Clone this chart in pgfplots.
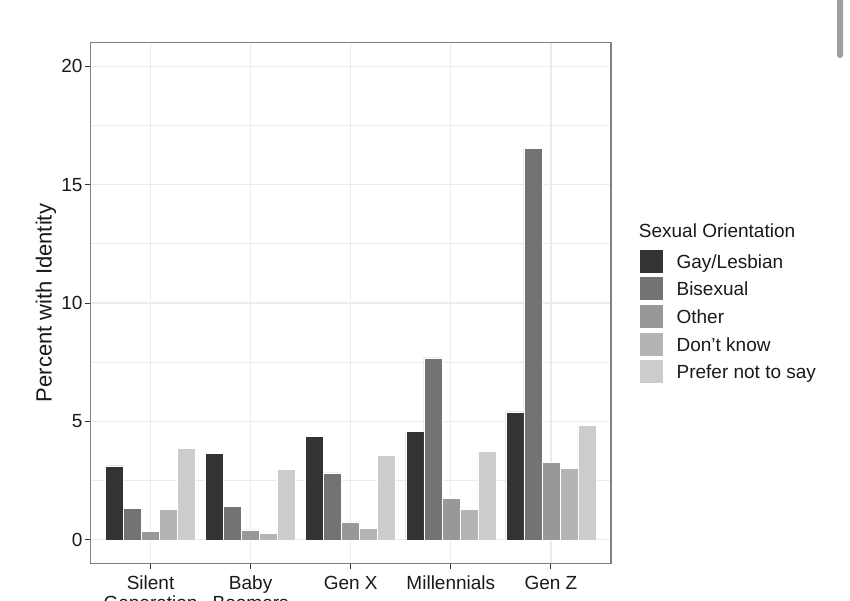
\documentclass[border=0pt]{standalone}
\usepackage{pgfplots}
\pgfplotsset{compat=1.18}
\usepackage{fontspec}
\setmainfont{Liberation Sans}
\definecolor{c1}{HTML}{333333}
\definecolor{c2}{HTML}{737373}
\definecolor{c3}{HTML}{989898}
\definecolor{c4}{HTML}{B4B4B4}
\definecolor{c5}{HTML}{CCCCCC}
\definecolor{gridc}{HTML}{EBEBEB}
\definecolor{framec}{HTML}{808080}
\definecolor{txt}{HTML}{1A1A1A}
\pgfplotstableread{
x gay bi other dk prefer
1 3.12 1.32 0.37 1.27 3.85
2 3.64 1.40 0.42 0.27 2.96
3 4.36 2.83 0.76 0.48 3.56
4 4.59 7.68 1.76 1.30 3.74
5 5.40 16.52 3.27 3.03 4.84
}\datatable
\begin{document}
\begin{tikzpicture}
\clip (0pt,0pt) rectangle (425pt,-300pt);
\fill[white] (0pt,0pt) rectangle (425pt,-300pt);
\fill[gray!75, rounded corners=1.4pt] (418.5pt,2pt) rectangle (421.5pt,-29pt);
\begin{axis}[
  name=ax,
  at={(45.25pt,-21.25pt)}, anchor=north west,
  width=260.25pt, height=260.5pt, scale only axis,
  xmin=0.4, xmax=5.6, ymin=-1, ymax=21,
  xtick={1,2,3,4,5},
  xticklabels={Silent\\Generation, Baby\\Boomers, Gen X, Millennials, Gen Z},
  ytick={0,5,10,15,20},
  minor ytick={2.5,7.5,12.5,17.5},
  /pgf/number format/assume math mode=true,
  minor tick length=0pt,
  major tick length=2.75pt,
  tick align=outside,
  xtick pos=bottom, ytick pos=left,
  tick style={color=black!80, line width=0.5pt},
  xmajorgrids, ymajorgrids, yminorgrids,
  major grid style={color=gridc, line width=0.6pt},
  minor grid style={color=gridc, line width=0.35pt},
  axis line style={color=framec, line width=0.55pt},
  xticklabel style={align=center, font=\fontsize{9.5}{10}\selectfont, text=txt},
  yticklabel style={font=\fontsize{9.5}{11}\selectfont, text=txt, xshift=2.25pt},
  ylabel={Percent with Identity},
  every axis y label/.style={at={(axis description cs:-0.0855,0.5)}, rotate=90, anchor=center, font=\fontsize{11}{13}\selectfont, text=txt},
  ybar, bar width=0.18,
  every axis plot/.append style={draw=white, line width=0.3pt},
  legend style={at={(rel axis cs:1,1)}, anchor=north west, xshift=14.5pt, yshift=-103.75pt,
    draw=none, fill=none, inner sep=0pt, outer sep=0pt, row sep=0pt,
    font=\fontsize{9.5}{11}\selectfont, text=txt,
    nodes={inner sep=0pt, outer sep=0pt, text height=9pt, text depth=4.85pt},
    /tikz/every odd column/.append style={column sep=6.5pt}},
  legend cell align=left,
  legend image code/.code={\path (0pt,0pt) (11.5pt,0pt);\fill[#1, draw=none, overlay] (0pt,-4.35pt) rectangle (11.5pt,7.15pt);},
]
\addplot[fill=c1, bar shift=-0.36] table[x=x, y=gay] {\datatable};
\addlegendentry{Gay/Lesbian}
\addplot[fill=c2, bar shift=-0.18] table[x=x, y=bi] {\datatable};
\addlegendentry{Bisexual}
\addplot[fill=c3, bar shift=0] table[x=x, y=other] {\datatable};
\addlegendentry{Other}
\addplot[fill=c4, bar shift=0.18] table[x=x, y=dk] {\datatable};
\addlegendentry{Don't know}
\addplot[fill=c5, bar shift=0.36] table[x=x, y=prefer] {\datatable};
\addlegendentry{Prefer not to say}
\end{axis}
\node[anchor=base west, font=\fontsize{9.5}{11}\selectfont, text=txt, inner sep=0pt] at ([xshift=13.75pt, yshift=-97.25pt]ax.north east) {Sexual Orientation};
\end{tikzpicture}
\end{document}
